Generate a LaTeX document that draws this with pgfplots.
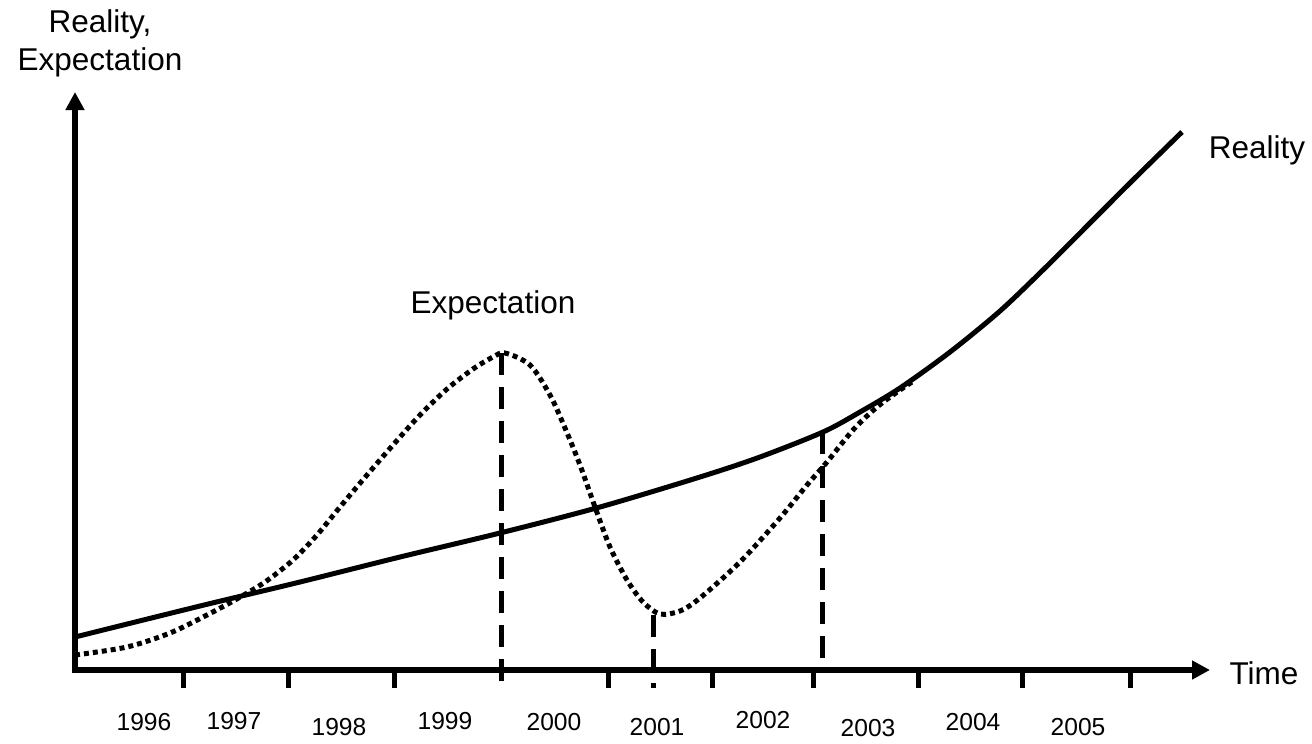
\documentclass[border=0pt]{standalone}
\usepackage{pgfplots}
\pgfplotsset{compat=1.18}
\usepackage{fontspec}
\setmainfont{Liberation Sans}
\usetikzlibrary{arrows.meta}
\begin{document}
\begin{tikzpicture}
\begin{axis}[
  x=0.5pt, y=0.5pt, y dir=reverse,
  xmin=0, xmax=1312, ymin=0, ymax=739,
  hide axis, clip=false, scale only axis,
]
\path (axis cs:0,0) rectangle (axis cs:1312,739);
% axes
\addplot[line width=3pt, -{Triangle[length=9pt,width=9pt]}] coordinates {(75,672) (75,92)};
\addplot[line width=3pt, -{Triangle[length=9pt,width=9pt]}] coordinates {(72,670) (1210,670)};
% ticks
\addplot[line width=2.5pt] coordinates {(183,670) (183,688)};
\addplot[line width=2.5pt] coordinates {(288,670) (288,688)};
\addplot[line width=2.5pt] coordinates {(394,670) (394,688)};
\addplot[line width=2.5pt] coordinates {(608,670) (608,688)};
\addplot[line width=2.5pt] coordinates {(712,670) (712,688)};
\addplot[line width=2.5pt] coordinates {(813,670) (813,688)};
\addplot[line width=2.5pt] coordinates {(918,670) (918,688)};
\addplot[line width=2.5pt] coordinates {(1022,670) (1022,688)};
\addplot[line width=2.5pt] coordinates {(1130,670) (1130,688)};
% reality
\addplot[line width=2.5pt, smooth, tension=0.5] coordinates {
(75,637) (200,606) (300,582) (400,557) (500,533) (600,507) (700,477)
(760,457) (823,432) (860,412) (900,388) (950,352) (1000,311) (1045,268) (1090,223)
(1135,178) (1182,132)};
% expectation
\addplot[line width=2.5pt, dash pattern=on 2.5pt off 2pt, smooth, tension=0.5] coordinates {
(75,655) (127,647) (170,633) (205,616) (235,600) (265,582) (293,560) (317,535)
(340,507) (367,475) (393,445) (420,415) (447,389) (473,369) (493,357) (505,353)
(530,365) (550,395) (565,428) (580,465) (595,507) (610,547) (627,580) (643,602)
(660,614) (680,611) (700,598) (740,562) (780,518) (807,485) (827,462) (853,430)
(877,407) (900,390) (912,382)};
% dashed verticals
\addplot[line width=2.5pt, dash pattern=on 11pt off 6pt] coordinates {(501,353) (501,690)};
\addplot[line width=2.5pt, dash pattern=on 11pt off 6pt] coordinates {(653,615) (653,688)};
\addplot[line width=2.5pt, dash pattern=on 11pt off 6pt] coordinates {(822,432) (822,670)};
% labels
\node[font=\fontsize{15.75pt}{19pt}\selectfont, align=center] at (axis cs:100,43) {Reality,\\Expectation};
\node[font=\fontsize{15.75pt}{19pt}\selectfont] at (axis cs:1257,150) {Reality};
\node[font=\fontsize{15.75pt}{19pt}\selectfont] at (axis cs:493,305) {Expectation};
\node[font=\fontsize{15.75pt}{19pt}\selectfont] at (axis cs:1264,673) {Time};
\node[font=\fontsize{12.3pt}{14pt}\selectfont] at (axis cs:144,722) {1996};
\node[font=\fontsize{12.3pt}{14pt}\selectfont] at (axis cs:234,721) {1997};
\node[font=\fontsize{12.3pt}{14pt}\selectfont] at (axis cs:339,727) {1998};
\node[font=\fontsize{12.3pt}{14pt}\selectfont] at (axis cs:445,721) {1999};
\node[font=\fontsize{12.3pt}{14pt}\selectfont] at (axis cs:554,722) {2000};
\node[font=\fontsize{12.3pt}{14pt}\selectfont] at (axis cs:657,727) {2001};
\node[font=\fontsize{12.3pt}{14pt}\selectfont] at (axis cs:763,720) {2002};
\node[font=\fontsize{12.3pt}{14pt}\selectfont] at (axis cs:868,728) {2003};
\node[font=\fontsize{12.3pt}{14pt}\selectfont] at (axis cs:973,722) {2004};
\node[font=\fontsize{12.3pt}{14pt}\selectfont] at (axis cs:1078,727) {2005};
\end{axis}
\end{tikzpicture}
\end{document}
